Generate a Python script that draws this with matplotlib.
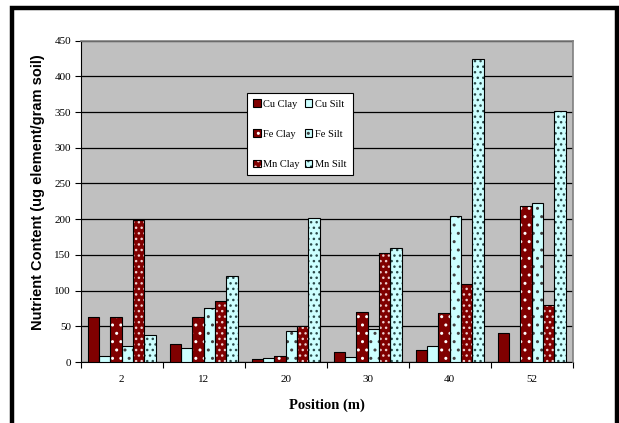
import numpy as np
import matplotlib
matplotlib.use('Agg')
import matplotlib.pyplot as plt
from matplotlib.patches import Patch, Rectangle

# Data
positions = ['2', '12', '20', '30', '40', '52']
cu_clay = [63, 25, 4, 14, 17, 41]
cu_silt = [8, 20, 6, 7, 22, 0]
fe_clay = [63, 63, 8, 70, 68, 218]
fe_silt = [23, 75, 44, 46, 204, 222]
mn_clay = [199, 86, 50, 153, 109, 80]
mn_silt = [38, 120, 201, 159, 424, 352]

red = '#800000'
cyan = '#CCFFFF'
series = [
    ('Cu Clay', cu_clay, red, None, red),
    ('Cu Silt', cu_silt, cyan, None, cyan),
    ('Fe Clay', fe_clay, red, '..', 'white'),
    ('Fe Silt', fe_silt, cyan, '..', '#404040'),
    ('Mn Clay', mn_clay, red, '...', '#f0d0d0'),
    ('Mn Silt', mn_silt, cyan, '...', '#2a4a4a'),
]

serif = 'Liberation Serif'
sans = 'Liberation Sans'

fig = plt.figure(figsize=(6.19, 4.23), dpi=100)
ax = fig.add_axes([0.1304, 0.1442, 0.7948, 0.7596])
ax.set_facecolor('#C0C0C0')

x = np.arange(len(positions))
w = 0.138
handles = {}
for i, (name, vals, fc, hatch, hc) in enumerate(series):
    xs = x - 3 * w + (i + 0.5) * w
    v = np.array(vals, dtype=float)
    ax.bar(xs, v, w, color=fc, hatch=hatch, edgecolor=hc, linewidth=0, zorder=3)
    ax.bar(xs[v > 0], v[v > 0], w, fill=False, edgecolor='black', linewidth=0.8, zorder=4)
    h1 = Patch(facecolor=fc, hatch=hatch, edgecolor=hc, linewidth=0)
    h2 = Patch(fill=False, edgecolor='black', linewidth=0.8)
    handles[name] = (h1, h2)

ax.set_xlim(-0.5, len(positions) - 0.5)
ax.set_ylim(0, 450)
ax.set_yticks(np.arange(0, 451, 50))
ax.yaxis.grid(True, color='black', linewidth=0.9)
ax.set_axisbelow(True)

ax.set_xticks(x)
ax.set_xticklabels(positions, fontfamily=serif, fontsize=8)
ax.set_xticks(np.arange(-0.5, len(positions)), minor=True)
ax.tick_params(axis='x', which='major', length=0, pad=9)
ax.tick_params(axis='x', which='minor', length=4, width=0.8, direction='out')
ax.tick_params(axis='y', length=4, width=0.8, direction='out', pad=3)
for lab in ax.get_yticklabels():
    lab.set_fontfamily(serif)
    lab.set_fontsize(8)

for s in ['top', 'right']:
    ax.spines[s].set_color('#808080')
    ax.spines[s].set_linewidth(1.2)
    ax.spines[s].set_zorder(5)
for s in ['left', 'bottom']:
    ax.spines[s].set_color('black')
    ax.spines[s].set_linewidth(0.8)

ax.set_ylabel('Nutrient Content (ug element/gram soil)', fontfamily=sans,
              fontweight='bold', fontsize=10.5)
ax.yaxis.set_label_coords(-0.072, 0.53)
ax.set_xlabel('Position (m)', fontfamily=serif, fontweight='bold', fontsize=10.5)
ax.xaxis.set_label_coords(0.5, -0.115)

order = ['Cu Clay', 'Fe Clay', 'Mn Clay', 'Cu Silt', 'Fe Silt', 'Mn Silt']
leg = ax.legend([handles[n] for n in order], order, ncol=2, loc='upper left',
                bbox_to_anchor=(0.338, 0.837), frameon=True, fancybox=False,
                edgecolor='black', framealpha=1, borderaxespad=0,
                prop={'family': serif, 'size': 7.5},
                handlelength=0.7, handleheight=0.7, handletextpad=0.25,
                labelspacing=2.0, columnspacing=0.5, borderpad=0.6)
leg.get_frame().set_linewidth(0.8)
leg.set_zorder(10)

# thick outer border
fig.patches.append(Rectangle((0.0186, -0.1), 0.9782, 1.081, transform=fig.transFigure,
                             fill=False, edgecolor='black', linewidth=3.2, clip_on=False))

fig.savefig('out.png', dpi=100)
